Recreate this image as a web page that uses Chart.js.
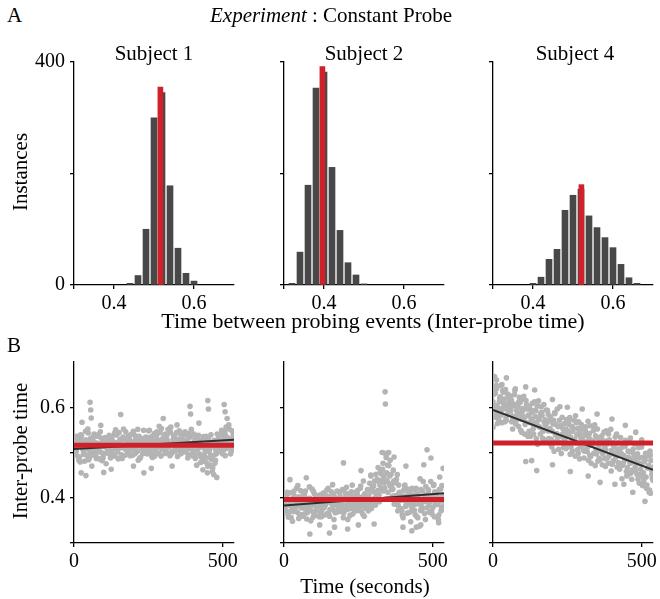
<!DOCTYPE html>
<html>
<head>
<meta charset="utf-8">
<title>Experiment : Constant Probe</title>
<script src="https://cdn.jsdelivr.net/npm/chart.js@4.4.1/dist/chart.umd.min.js"></script>
<style>
  body { margin: 0; background: #fff; }
  #fig { position: relative; width: 660px; height: 599px; overflow: hidden; font-family: "Liberation Serif", "Times New Roman", serif; color: #000; }
  .txt { position: absolute; white-space: nowrap; }
  .rot { transform: translate(-50%, -50%) rotate(-90deg); }
  canvas { position: absolute; }
</style>
</head>
<body>
<div id="fig"></div>
<script>
// ---- Histogram data (row A) ----
const subjects = ['Subject 1', 'Subject 2', 'Subject 4'];

const histBins1 = [0.44, 0.46, 0.48, 0.50, 0.52, 0.54, 0.56, 0.58, 0.60];
const histCounts1 = [3, 17, 100, 300, 345, 178, 66, 21, 7];

const histBins2 = [0.32, 0.34, 0.36, 0.38, 0.40, 0.42, 0.44, 0.46, 0.48, 0.50];
const histCounts2 = [3, 59, 179, 353, 382, 211, 98, 40, 18, 2];

const histBins4 = [0.40, 0.42, 0.44, 0.46, 0.48, 0.50, 0.52, 0.54, 0.56, 0.58, 0.60, 0.62, 0.64, 0.66];
const histCounts4 = [3, 14, 46, 64, 134, 161, 172, 124, 103, 85, 67, 37, 13, 3];

// mean inter-probe time (red bar / red line) and its bar height
const meanTimes = [0.516, 0.396, 0.521];
const meanCounts = [355, 392, 180];

// tick values and labels
const histXTicks = [0.3, 0.4, 0.6];
const histXLabels = ['', '0.4', '0.6'];
const histYTicks = [0, 200, 400];
const histYLabels = ['0', '', '400'];
const timeTicks = [0, 500];
const timeLabels = ['0', '500'];
const ipTicks = [0.3, 0.4, 0.5, 0.6];
const ipLabels = ['', '0.4', '', '0.6'];

// ---- Scatter data (row B), inter-probe times in ms, interleaved rows per subject ----
const sampleStep = 6;               // seconds between samples in a row
const rowOffsets = [0, 1.5, 3, 4.5]; // start time of each row

const s1Rows = [
  [512,497,528,489,534,506,481,519,543,502, 495,523,509,536,486,514,499,527,475,511,
   531,504,518,492,540,509,524,487,515,546, 501,529,512,494,538,519,483,526,508,549,
   516,497,533,521,489,542,507,528,514,553, 524,498,537,512,545,503,531,519,491,548,
   527,508,539,515,496,534,511,522,487,506, 528,478,513,494,536,469,507,485,521,476,
   499,532,514,543,506,537,521,552,511,529, 518],
  [524,503,491,517,538,496,522,508,484,531, 507,541,492,519,503,532,488,516,527,498,
   511,535,496,522,507,544,518,493,529,512, 536,506,521,547,498,514,532,489,523,508,
   534,511,549,503,526,492,538,519,544,507, 512,541,527,499,556,518,535,506,529,542,
   499,521,546,508,532,517,493,541,524,512, 497,526,462,509,488,531,472,517,494,483,
   541,508,523,497,534,556,514,527,503,539],
  [498,536,515,479,524,509,547,493,521,504, 528,512,487,539,501,522,495,533,509,519,
   488,526,513,539,502,521,495,534,508,525, 517,493,541,509,528,502,536,514,497,530,
   503,527,518,492,535,511,546,498,523,516, 536,509,521,551,497,528,513,544,522,505,
   533,516,501,527,542,509,518,495,536,521, 511,489,535,501,476,519,493,458,527,505,
   518,537,501,526,545,509,532,519,548,507],
  [506,521,483,539,514,497,528,552,489,517, 534,498,521,509,546,482,513,527,501,538,
   497,517,543,508,486,529,511,552,494,521, 508,539,496,524,513,551,487,519,531,502,
   521,548,509,536,497,524,514,558,492,531, 509,527,551,493,519,538,502,561,516,497,
   514,543,526,488,519,551,503,531,472,538, 492,517,481,528,455,503,539,466,512,497,
   527,503,549,516,493,528,561,497,521,533]
];
const s1Extra = [[27,567],[54,611],[56,594],[58,576],[24,455],[40,449],[100,456],[157,584],
  [235,455],[300,575],[390,602],[392,585],[450,615],[452,596],[505,606],[508,590],[515,575],
  [480,445],[470,451],[125,463],[200,470],[60,470],[330,470],[260,465],[10,535],[90,560],
  [140,550],[420,565]];

const s2Rows = [
  [392,371,408,384,356,399,376,421,388,363, 401,378,415,367,392,349,386,409,372,396,
   381,358,403,389,417,366,394,375,352,398, 385,412,369,397,378,423,391,361,404,383,
   371,408,394,426,382,359,401,387,432,376, 413,392,437,404,458,421,446,397,472,431,
   452,419,398,441,383,407,372,416,394,366, 389,347,405,373,421,356,398,381,436,402,
   378,415,392,364,429,401,386,418,371,404, 393],
  [374,397,363,411,382,369,402,387,354,416, 387,364,398,381,424,371,357,393,378,405,
   396,373,411,384,365,402,388,429,371,386, 398,374,391,356,411,385,402,376,428,393,
   389,416,375,398,363,409,385,371,417,392, 426,384,441,407,419,463,434,489,412,448,
   427,461,405,386,428,394,362,403,381,419, 368,402,385,417,359,396,442,374,391,352,
   407,383,436,396,358,411,387,446,379,398],
  [401,383,357,392,376,414,391,368,402,378, 359,407,386,371,399,383,414,362,397,384,
   367,391,378,405,394,359,413,382,401,368, 379,403,386,367,396,374,409,388,364,401,
   413,382,401,369,437,394,378,406,391,423, 398,452,416,391,438,476,422,455,398,483,
   418,437,392,451,411,376,397,426,385,408, 412,379,396,363,408,387,372,415,398,425,
   391,368,404,379,413,385,352,399,427,381],
  [386,412,369,395,348,403,381,427,361,394, 412,376,353,398,387,419,366,401,384,358,
   407,385,362,396,421,374,391,408,367,415, 372,395,418,381,403,352,389,413,384,371,
   398,372,421,386,405,377,418,396,448,383, 437,405,467,428,452,415,498,438,471,425,
   403,386,433,371,412,395,356,428,389,405, 396,421,371,386,409,337,418,392,365,407,
   418,392,371,427,386,403,362,419,393,374]
];
const s2Extra = [[340,634],[341,607],[87,320],[153,322],[214,331],[303,342],[430,327],[445,335],
  [20,440],[75,444],[200,477],[259,460],[292,450],[370,490],[481,506],[494,488],[470,473],
  [330,500],[352,500],[345,495],[120,340],[170,335],[250,340],[400,335],[460,340],[520,345],
  [535,465],[410,470]];

const s4Rows = [
  [612,578,641,597,623,566,608,639,584,617, 593,552,628,571,604,587,545,619,562,598,
   581,536,609,558,592,518,573,601,547,566, 527,584,553,512,571,539,596,523,558,541,
   564,509,548,577,521,553,492,539,568,514, 531,488,557,512,542,476,523,561,497,518,
   484,537,502,469,526,493,551,478,512,498, 521,463,497,476,514,448,489,532,461,482,
   458,497,432,474,446,489,421,467,503,452, 468],
  [587,631,603,572,648,594,618,576,629,601, 616,574,637,592,558,611,583,624,567,596,
   547,594,568,612,531,578,556,589,529,572, 566,531,579,547,503,562,534,571,498,552,
   529,573,541,496,558,527,581,506,544,532, 552,503,538,569,494,527,548,471,533,509,
   519,473,545,506,488,528,459,517,496,541, 478,508,442,493,527,467,501,454,486,519,
   487,441,476,512,455,483,428,471,494,443],
  [629,591,564,612,583,637,598,571,622,606, 568,603,641,582,612,549,597,577,615,536,
   601,574,552,593,566,614,541,582,606,559, 593,548,517,566,588,524,557,601,536,511,
   547,518,562,534,503,571,521,553,486,562, 506,541,524,483,559,516,498,537,552,487,
   531,497,512,548,476,523,505,482,534,468, 499,533,472,514,489,451,526,478,507,463,
   476,511,451,489,437,498,466,412,482,459],
  [603,648,582,619,597,633,568,607,591,625, 581,607,563,599,622,574,593,541,606,583,
   566,588,541,579,603,557,586,532,567,594, 548,571,529,563,586,542,507,559,578,531,
   552,536,571,512,547,529,566,498,541,524, 517,548,502,533,491,526,556,507,481,529,
   503,526,487,518,541,496,474,521,489,507, 494,471,512,483,458,503,476,441,497,469,
   451,488,463,427,479,446,493,417,462,438]
];
const s4Extra = [[5,668],[45,665],[12,660],[30,650],[110,645],[140,638],[0,556],[110,480],
  [130,482],[147,460],[200,473],[260,458],[320,448],[360,434],[410,430],[440,430],[470,412],
  [511,392],[530,410],[350,585],[400,574],[300,596],[200,617],[480,545],[500,528],[525,500],
  [445,560],[250,600]];

// linear trend (black line) at start and end of the session
const trendStart = [0.508, 0.383, 0.594];
const trendEnd = [0.528, 0.410, 0.462];
const sessionEnd = 538;

// ---- layout ----
const colX = [74, 283.5, 493];
const panelW = 160;
const rowA = { top: 59, h: 226 };
const rowB = { top: 359, h: 184 };
const padL = 60, padT = 14, padR = 16, padB = 40;

const BAR = '#484848';
const RED = '#d0202a';
const DOT = '#b4b4b4';

Chart.defaults.font.family = '"Liberation Serif", "Times New Roman", serif';
Chart.defaults.font.size = 20;
Chart.defaults.color = '#000';

const fig = document.getElementById('fig');

// place a text line by its baseline (or, when rotated, by its baseline column)
function addText(html, x, baseline, opts = {}) {
  const size = opts.size || 21;
  const d = document.createElement('div');
  d.className = 'txt';
  d.style.fontSize = size + 'px';
  d.style.lineHeight = size + 'px';
  d.innerHTML = html;
  fig.appendChild(d);
  if (opts.rotate) {
    d.classList.add('rot');
    d.style.left = (x - size * 0.3375) + 'px';
    d.style.top = baseline + 'px';
  } else {
    d.style.top = (baseline - size * 0.8375) + 'px';
    d.style.left = x + 'px';
    if (opts.center) d.style.transform = 'translateX(-50%)';
  }
}

function makeCanvas(left, row) {
  const c = document.createElement('canvas');
  c.width = panelW + padL + padR;
  c.height = row.h + padT + padB;
  c.style.left = (left - padL) + 'px';
  c.style.top = (row.top - padT) + 'px';
  fig.appendChild(c);
  return c;
}

function axis(min, max, ticks, labels, showLabels, isY) {
  return {
    type: 'linear',
    min, max,
    offset: false,
    afterFit: s => { if (isY) s.width = padL; else s.height = padB; },
    afterBuildTicks: s => { s.ticks = ticks.map(v => ({ value: v })); },
    ticks: {
      autoSkip: false,
      maxRotation: 0,
      padding: isY ? 5 : 3,
      callback: v => showLabels ? labels[ticks.indexOf(v)] : ''
    },
    grid: { display: true, drawOnChartArea: false, offset: false, color: '#000', lineWidth: 1.3, tickLength: 4 },
    border: { display: true, color: '#000', width: 1.3 }
  };
}

const baseOptions = {
  responsive: false,
  animation: false,
  events: [],
  layout: { padding: { left: 0, top: padT, right: padR, bottom: 0 } },
  plugins: { legend: { display: false }, tooltip: { enabled: false } }
};

// ---- row A: histograms ----
const histBins = [histBins1, histBins2, histBins4];
const histCounts = [histCounts1, histCounts2, histCounts4];

histBins.forEach((bins, i) => {
  new Chart(makeCanvas(colX[i], rowA), {
    type: 'bar',
    data: {
      datasets: [
        { data: [{ x: meanTimes[i], y: meanCounts[i] }], backgroundColor: RED, barThickness: 5, grouped: false },
        { data: bins.map((b, k) => ({ x: b, y: histCounts[i][k] })), backgroundColor: BAR, barThickness: 6, grouped: false }
      ]
    },
    options: {
      ...baseOptions,
      scales: {
        x: axis(0.3, 0.7, histXTicks, histXLabels, true, false),
        y: axis(0, 400, histYTicks, histYLabels, i === 0, true)
      }
    }
  });
});

// ---- row B: inter-probe time over the session ----
const allRows = [s1Rows, s2Rows, s4Rows];
const allExtra = [s1Extra, s2Extra, s4Extra];

allRows.forEach((rows, i) => {
  const pts = [];
  rows.forEach((row, r) => row.forEach((v, k) => pts.push({ x: k * sampleStep + rowOffsets[r], y: v / 1000 })));
  allExtra[i].forEach(([t, v]) => pts.push({ x: t, y: v / 1000 }));

  new Chart(makeCanvas(colX[i], rowB), {
    type: 'scatter',
    data: {
      datasets: [
        { data: [{ x: 0, y: meanTimes[i] }, { x: sessionEnd, y: meanTimes[i] }], showLine: true, borderColor: RED, borderWidth: 5, pointRadius: 0 },
        { data: [{ x: 0, y: trendStart[i] }, { x: sessionEnd, y: trendEnd[i] }], showLine: true, borderColor: '#2e2e2e', borderWidth: 2, pointRadius: 0 },
        { data: pts, backgroundColor: DOT, borderWidth: 0, pointRadius: 2.8 }
      ]
    },
    options: {
      ...baseOptions,
      scales: {
        x: axis(0, sessionEnd, timeTicks, timeLabels, true, false),
        y: axis(0.3, 0.7, ipTicks, ipLabels, i === 0, true)
      }
    }
  });
});

// ---- figure text ----
addText('A', 7, 23);
addText('<i>Experiment</i> : Constant Probe', 331, 23, { center: true });
addText(subjects[0], 154, 61, { center: true });
addText(subjects[1], 364, 61, { center: true });
addText(subjects[2], 575, 61, { center: true });
addText('Instances', 26.7, 172, { rotate: true });
addText('Time between probing events (Inter-probe time)', 373, 328.5, { center: true, size: 22 });
addText('B', 7, 353);
addText('Inter-probe time', 26.7, 451, { rotate: true });
addText('Time (seconds)', 365, 594, { center: true });
</script>
</body>
</html>
